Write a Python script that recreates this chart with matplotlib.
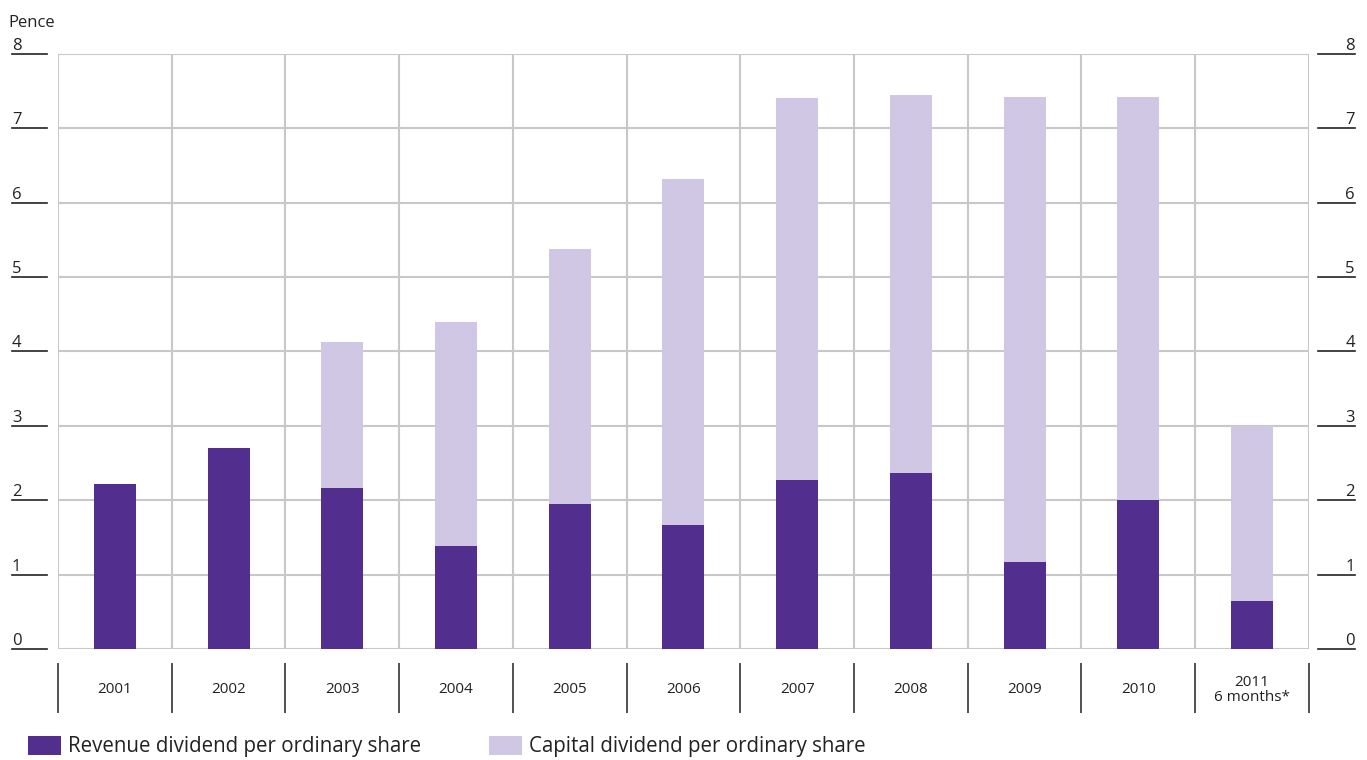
import numpy as np
import matplotlib.pyplot as plt
from matplotlib.patches import Patch

# ---------------------------------------------------------------------------
# Data (pence per ordinary share)
# ---------------------------------------------------------------------------
years = ["2001", "2002", "2003", "2004", "2005", "2006",
         "2007", "2008", "2009", "2010", "2011\n6 months*"]
revenue = [2.22, 2.70, 2.16, 1.38, 1.95, 1.67, 2.27, 2.37, 1.17, 2.00, 0.65]
total = [2.22, 2.70, 4.13, 4.40, 5.38, 6.32, 7.41, 7.45, 7.42, 7.42, 3.00]
capital = [t - r for t, r in zip(total, revenue)]
yticks = [0, 1, 2, 3, 4, 5, 6, 7, 8]

REV_COL = '#522e8f'
CAP_COL = '#d0c7e5'
GRID_COL = '#c8c8c8'
TEXT_COL = '#222222'

plt.rcParams['font.family'] = ['Open Sans', 'DejaVu Sans']

fig = plt.figure(figsize=(13.67, 7.6), dpi=100)
ax = fig.add_axes([0.0424, 0.1461, 0.9151, 0.7829])

x = np.arange(len(years))
ax.bar(x, revenue, width=0.37, color=REV_COL, zorder=3)
ax.bar(x, capital, width=0.37, bottom=revenue, color=CAP_COL, zorder=3)

ax.set_xlim(-0.5, len(years) - 0.5)
ax.set_ylim(0, 8)

# grid
for yv in yticks:
    ax.axhline(yv, color=GRID_COL, lw=1.5, zorder=1)
for b in np.arange(-0.5, len(years), 1.0):
    ax.axvline(b, color=GRID_COL, lw=1.5, zorder=1)

for s in ax.spines.values():
    s.set_visible(False)
ax.set_xticks([])
ax.set_yticks([])

# y tick labels with underline, both sides
ytr = ax.get_yaxis_transform()
for yv in yticks:
    ax.plot([-0.0368, -0.0088], [yv, yv], color=TEXT_COL, lw=1.2,
            transform=ytr, clip_on=False)
    ax.text(-0.0368, yv, str(yv), transform=ytr, ha='left',
            va='bottom', fontsize=12, color=TEXT_COL)
    ax.plot([1.0072, 1.0368], [yv, yv], color=TEXT_COL, lw=1.2,
            transform=ytr, clip_on=False)
    ax.text(1.0368, yv, str(yv), transform=ytr, ha='right',
            va='bottom', fontsize=12, color=TEXT_COL)

ax.text(-0.04, 8.42, 'Pence', transform=ytr, ha='left', va='center',
        fontsize=12, color=TEXT_COL)

# category separators and labels below the axis
ax.vlines(np.arange(-0.5, len(years), 1.0), -0.19, -0.86,
          color='#333333', lw=1.2, clip_on=False)
for i, lab in enumerate(years):
    ax.text(i, -0.55, lab, ha='center', va='center', fontsize=11,
            color=TEXT_COL, linespacing=1.0)

# legend
handles = [Patch(facecolor=REV_COL), Patch(facecolor=CAP_COL)]
labels = ['Revenue dividend per ordinary share',
          'Capital dividend per ordinary share']
fig.legend(handles, labels, loc='lower left', bbox_to_anchor=(0.0069, -0.021),
           ncol=2, frameon=False, fontsize=14.8, handlelength=1.6,
           handleheight=1.1, handletextpad=0.35, columnspacing=3.3,
           labelcolor=TEXT_COL)

fig.savefig('out.png', dpi=100)
